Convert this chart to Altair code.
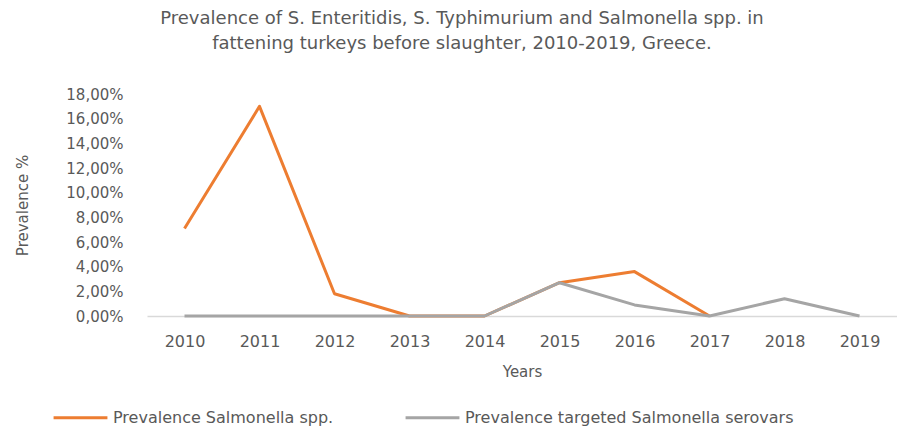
import altair as alt
import pandas as pd

years = ["2010", "2011", "2012", "2013", "2014", "2015", "2016", "2017", "2018", "2019"]
spp = [0.071, 0.170, 0.018, 0.0, 0.0, 0.027, 0.036, 0.0, None, None]
serovars = [0.0, 0.0, 0.0, 0.0, 0.0, 0.027, 0.009, 0.0, 0.014, 0.0]
series_names = ["Prevalence Salmonella spp.", "Prevalence targeted Salmonella serovars"]
colors = ["#ED7D31", "#A5A5A5"]

rows = []
for i, y in enumerate(years):
    rows.append({"year": y, "series": series_names[0], "value": spp[i], "order": 0})
    rows.append({"year": y, "series": series_names[1], "value": serovars[i], "order": 1})
df = pd.DataFrame(rows)

font = "DejaVu Sans"
grey_text = "#595959"

chart = alt.Chart(df).mark_line(strokeWidth=3, strokeJoin="round").encode(
    x=alt.X("year:O", title="Years", sort=years,
            scale=alt.Scale(type="point", padding=0.5),
            axis=alt.Axis(labelAngle=0, ticks=False, domainColor="#D9D9D9", domainWidth=1.5,
                          labelPadding=17, labelFontSize=16, labelColor=grey_text, labelFont=font,
                          titleFontSize=15, titleColor=grey_text, titleFont=font, titleFontWeight="normal",
                          titlePadding=15)),
    y=alt.Y("value:Q", title="Prevalence %",
            scale=alt.Scale(domain=[0, 0.18]),
            axis=alt.Axis(values=[0, 0.02, 0.04, 0.06, 0.08, 0.10, 0.12, 0.14, 0.16, 0.18],
                          labelExpr="replace(format(datum.value, '.2%'), '.', ',')",
                          grid=False, domain=False, ticks=False, labelPadding=24,
                          labelFontSize=15, labelColor=grey_text, labelFont=font,
                          titleFontSize=15, titleColor=grey_text, titleFont=font, titleFontWeight="normal",
                          titleX=-125, titleY=111, titleAlign="center", titleBaseline="middle")),
    color=alt.Color("series:N", sort=series_names,
                    scale=alt.Scale(domain=series_names, range=colors),
                    legend=alt.Legend(title=None, orient="none", legendX=-95, legendY=295,
                                      direction="horizontal", symbolType="stroke", symbolSize=2900,
                                      symbolStrokeWidth=3, labelFontSize=16, labelColor=grey_text,
                                      labelFont=font, columnPadding=65, labelOffset=4, labelLimit=400)),
    order=alt.Order("order:Q"),
).properties(
    width=750,
    height=222,
    title=alt.TitleParams(
        text=["Prevalence of S. Enteritidis, S. Typhimurium and Salmonella spp. in",
              "fattening turkeys before slaughter, 2010-2019, Greece."],
        fontSize=18, font=font, color=grey_text, fontWeight="normal",
        anchor="middle", dx=-60, lineHeight=25, offset=34,
    ),
    autosize=alt.AutoSizeParams(type="none"),
    padding={"left": 139, "top": 86, "right": 0, "bottom": 115},
).configure_view(stroke=None)

chart.save("out.html", embed_options={"renderer": "svg", "actions": False})
